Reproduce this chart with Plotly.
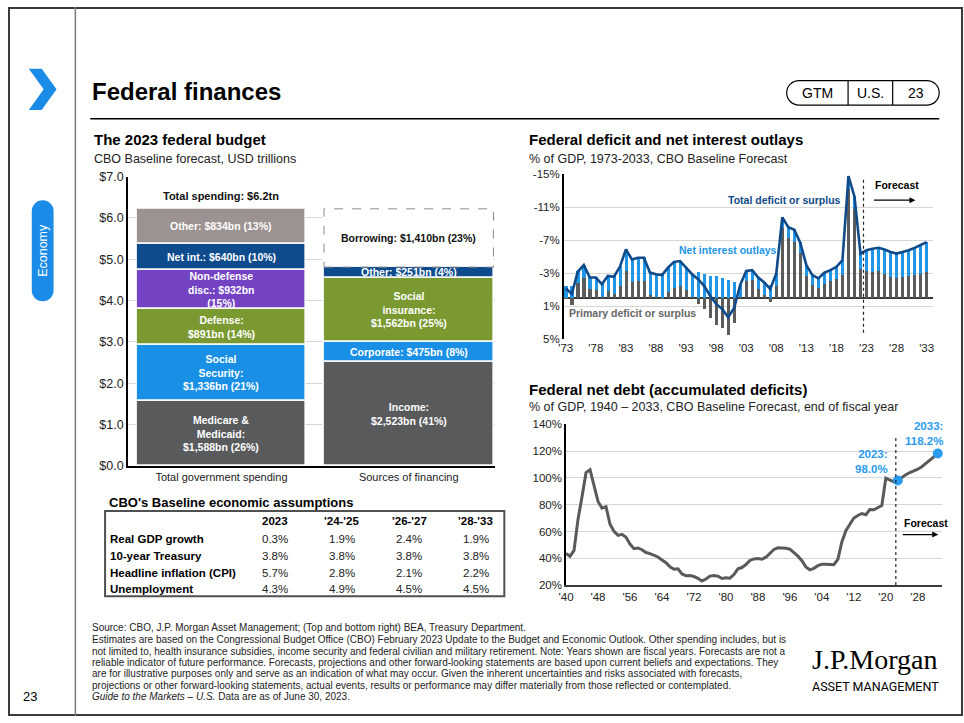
import plotly.graph_objects as go

W, H = 964, 723
SANS = "Liberation Sans, Arial, Helvetica, sans-serif"

# ---------------- DATA ----------------
budget_categories = ["Total government spending", "Sources of financing"]

spending_items = ["Medicare & Medicaid", "Social Security", "Defense",
                  "Non-defense discretionary", "Net interest", "Other"]
spending_values = [1.588, 1.336, 0.891, 0.932, 0.640, 0.834]   # USD trillions
spending_text = ["Medicare &<br>Medicaid:<br>$1,588bn (26%)",
                 "Social<br>Security:<br>$1,336bn (21%)",
                 "Defense:<br>$891bn (14%)",
                 "Non-defense<br>disc.: $932bn<br>(15%)",
                 "Net int.: $640bn (10%)",
                 "Other: $834bn (13%)"]
spending_colors = ["#595a5c", "#1a8fe6", "#7a9a31", "#7443c4", "#0d4b8c", "#9c9292"]
total_spending_label = "Total spending: $6.2tn"

financing_items = ["Income", "Corporate", "Social insurance", "Other", "Borrowing"]
financing_values = [2.523, 0.475, 1.562, 0.251, 1.410]        # USD trillions
financing_text = ["Income:<br>$2,523bn (41%)",
                  "Corporate: $475bn (8%)",
                  "Social<br>insurance:<br>$1,562bn (25%)",
                  "Other: $251bn (4%)",
                  "Borrowing: $1,410bn (23%)"]
financing_colors = ["#595a5c", "#1a8fe6", "#7a9a31", "#0d4b8c", "#ffffff"]

# Federal deficit, % of GDP (positive = deficit), fiscal years 1973-2033
deficit_years = list(range(1973, 2034))
primary_deficit = [-0.2, -0.9, 1.8, 2.4, 1.1, 1.0, 0.1, 0.8, 0.4, 1.4,
                   3.3, 1.9, 2.0, 2.0, 0.3, 0.1, -0.2, 0.7, 1.2, 1.4,
                   0.9, 0.1, -0.8, -1.4, -2.4, -3.3, -3.7, -4.5, -3.1, 0.1,
                   2.0, 2.1, 1.1, 0.3, -0.5, 1.4, 8.5, 7.3, 6.8, 5.4,
                   2.7, 1.5, 1.2, 1.7, 2.0, 2.3, 2.8, 13.2, 10.8, 3.5,
                   3.3, 3.1, 3.3, 2.9, 2.5, 2.4, 2.5, 2.7, 2.8, 2.9, 3.1]
net_interest = [1.4, 1.4, 1.4, 1.6, 1.4, 1.5, 1.6, 1.9, 2.2, 2.4,
                2.6, 2.8, 2.9, 2.9, 2.8, 2.8, 3.0, 3.0, 3.2, 3.1,
                2.8, 2.8, 3.1, 2.9, 2.7, 2.6, 2.4, 2.2, 1.9, 1.5,
                1.3, 1.3, 1.4, 1.6, 1.6, 1.6, 1.3, 1.3, 1.5, 1.3,
                1.3, 1.3, 1.2, 1.4, 1.4, 1.5, 1.8, 1.6, 1.5, 1.9,
                2.5, 2.9, 2.8, 3.0, 3.1, 3.0, 3.1, 3.1, 3.3, 3.6, 3.7]
total_deficit = [1.2, 0.5, 3.2, 4.0, 2.5, 2.5, 1.7, 2.7, 2.6, 3.8,
                 5.9, 4.7, 4.9, 4.9, 3.1, 2.9, 2.8, 3.7, 4.4, 4.5,
                 3.7, 2.9, 2.3, 1.5, 0.3, -0.7, -1.3, -2.3, -1.2, 1.6,
                 3.3, 3.4, 2.5, 1.9, 1.1, 3.0, 9.8, 8.6, 8.3, 6.7,
                 4.0, 2.8, 2.4, 3.1, 3.4, 3.8, 4.6, 14.8, 12.3, 5.4,
                 5.8, 6.0, 6.1, 5.9, 5.6, 5.4, 5.6, 5.8, 6.1, 6.5, 6.8]

# Federal net debt, % of GDP, 1940-2033
debt_years = list(range(1940, 2034))
net_debt = [43.6, 41.5, 45.9, 69.2, 86.0, 103.9, 106.1, 93.9, 82.4, 77.4,
            78.5, 65.4, 60.1, 57.1, 57.9, 55.7, 50.6, 47.2, 47.7, 46.4,
            44.3, 43.5, 42.3, 41.0, 38.7, 36.7, 33.7, 31.8, 32.2, 28.3,
            27.0, 27.1, 26.4, 25.1, 23.1, 24.5, 26.7, 27.1, 26.6, 24.9,
            25.5, 25.2, 27.9, 32.1, 33.1, 35.3, 38.4, 39.5, 39.8, 39.3,
            40.8, 44.0, 46.6, 47.8, 47.7, 47.5, 46.8, 44.5, 41.6, 38.2,
            33.6, 31.4, 32.5, 34.5, 35.5, 35.6, 35.3, 35.2, 39.2, 52.2,
            60.6, 65.5, 70.0, 71.9, 73.4, 72.5, 76.4, 76.2, 77.6, 79.4,
            99.8, 98.4, 97.0, 98.0, 100.5, 102.4, 104.0, 105.2, 106.5, 108.3,
            110.6, 113.2, 115.7, 118.2]
highlight_years = [2023, 2033]
forecast_start = 2022.5

deficit_tick_years = list(range(1973, 2034, 5))
deficit_tick_vals = [-15, -11, -7, -3, 1, 5]
debt_tick_years = list(range(1940, 2030, 8))
debt_tick_vals = [20, 40, 60, 80, 100, 120, 140]
budget_tick_vals = [0, 1, 2, 3, 4, 5, 6, 7]

table_columns = ["2023", "'24-'25", "'26-'27", "'28-'33"]
table_rows = ["Real GDP growth", "10-year Treasury", "Headline inflation (CPI)", "Unemployment"]
table_values = [["0.3%", "1.9%", "2.4%", "1.9%"],
                ["3.8%", "3.8%", "3.8%", "3.8%"],
                ["5.7%", "2.8%", "2.1%", "2.2%"],
                ["4.3%", "4.9%", "4.5%", "4.5%"]]

footer_lines = [
    "Source: CBO, J.P. Morgan Asset Management; (Top and bottom right) BEA, Treasury Department.",
    "Estimates are based on the Congressional Budget Office (CBO) February 2023 Update to the Budget and Economic Outlook. Other spending includes, but is",
    "not limited to, health insurance subsidies, income security and federal civilian and military retirement. Note: Years shown are fiscal years. Forecasts are not a",
    "reliable indicator of future performance. Forecasts, projections and other forward-looking statements are based upon current beliefs and expectations. They",
    "are for illustrative purposes only and serve as an indication of what may occur. Given the inherent uncertainties and risks associated with forecasts,",
    "projections or other forward-looking statements, actual events, results or performance may differ materially from those reflected or contemplated.",
    "<i>Guide to the Markets – U.S.</i> Data are as of June 30, 2023.",
]

# ---------------- helpers ----------------
def X(p):
    return p / W

def Y(p):
    return 1 - p / H

def rrect_path(x0, y0, x1, y1, r):
    k = 0.5523 * r
    pts = [
        ("M", [(x0 + r, y0)]),
        ("L", [(x1 - r, y0)]),
        ("C", [(x1 - r + k, y0), (x1, y0 + r - k), (x1, y0 + r)]),
        ("L", [(x1, y1 - r)]),
        ("C", [(x1, y1 - r + k), (x1 - r + k, y1), (x1 - r, y1)]),
        ("L", [(x0 + r, y1)]),
        ("C", [(x0 + r - k, y1), (x0, y1 - r + k), (x0, y1 - r)]),
        ("L", [(x0, y0 + r)]),
        ("C", [(x0, y0 + r - k), (x0 + r - k, y0), (x0 + r, y0)]),
    ]
    s = ""
    for cmd, ps in pts:
        s += cmd + " " + " ".join(f"{X(a):.5f},{Y(b):.5f}" for a, b in ps) + " "
    return s + "Z"

annotations = []

def txt(x, y, text, size, color="#000000", bold=False, xanchor="left",
        yanchor="middle", family=SANS, **kw):
    annotations.append(dict(
        x=X(x), y=Y(y), xref="paper", yref="paper", text=text, showarrow=False,
        xanchor=xanchor, yanchor=yanchor, align=kw.pop("align", xanchor if xanchor != "center" else "center"),
        font=dict(size=size, color=color, family=family, weight="bold" if bold else "normal"),
        **kw))

def arrow(x0, x1, y):
    annotations.append(dict(x=X(x1), y=Y(y), xref="paper", yref="paper", ax=-(x1 - x0), ay=0,
                            axref="pixel", ayref="pixel", text="", showarrow=True, arrowhead=2,
                            arrowsize=1, arrowwidth=1.2, arrowcolor="#000000"))

fig = go.Figure()

# ---------------- left: stacked budget bars ----------------
BAR_W = 0.905

def add_stack(xpos, names, values, labels, colors):
    base = 0.0
    for name, val, label, col in zip(names, values, labels, colors):
        fig.add_trace(go.Bar(
            x=[xpos], y=[val], width=[BAR_W], name=name, xaxis="x", yaxis="y",
            marker=dict(color=col, line=dict(color="white", width=1.5)),
            hoverinfo="skip", showlegend=False))
        annotations.append(dict(
            x=xpos, y=base + val / 2, xref="x", yref="y", text=label, showarrow=False,
            xanchor="center", yanchor="middle", align="center",
            font=dict(size=10.5, family=SANS, weight="bold",
                      color="#111111" if col == "#ffffff" else "white")))
        base += val

add_stack(0, spending_items, spending_values, spending_text, spending_colors)
add_stack(1, financing_items, financing_values, financing_text, financing_colors)

# ---------------- top right: deficit ----------------
fig.add_trace(go.Bar(x=deficit_years, y=[-v for v in primary_deficit], width=0.52,
                     marker=dict(color="#5b5b5b", line=dict(width=0)),
                     xaxis="x2", yaxis="y2", showlegend=False, name="Primary deficit or surplus"))
fig.add_trace(go.Bar(x=deficit_years, y=[-v for v in net_interest], width=0.52,
                     marker=dict(color="#2196e6", line=dict(width=0)),
                     xaxis="x2", yaxis="y2", showlegend=False, name="Net interest outlays"))
fig.add_trace(go.Scatter(x=deficit_years, y=[-v for v in total_deficit], mode="lines",
                         line=dict(color="#0f4a8a", width=2.6),
                         xaxis="x2", yaxis="y2", showlegend=False, name="Total deficit or surplus"))

# ---------------- bottom right: net debt ----------------
fig.add_trace(go.Scatter(x=debt_years, y=net_debt, mode="lines",
                         line=dict(color="#5a5a5a", width=3),
                         xaxis="x3", yaxis="y3", showlegend=False, name="Net debt"))
hl_vals = [net_debt[debt_years.index(yr)] for yr in highlight_years]
fig.add_trace(go.Scatter(x=highlight_years, y=hl_vals, mode="markers",
                         marker=dict(color="#2a9cf0", size=10),
                         cliponaxis=False, xaxis="x3", yaxis="y3", showlegend=False))
for yr, v, xs in zip(highlight_years, hl_vals, [-8, 7]):
    annotations.append(dict(x=yr, y=v, xref="x3", yref="y3", text=f"<b>{yr}:<br>{v:.1f}%</b>",
                            showarrow=False, xanchor="right", yanchor="bottom", align="right",
                            xshift=xs, yshift=4,
                            font=dict(size=11.5, color="#2a9cf0", family=SANS)))

annotations.append(dict(x=0, y=sum(spending_values), xref="x", yref="y",
                        text=f"<b>{total_spending_label}</b>", showarrow=False,
                        yanchor="bottom", yshift=5,
                        font=dict(size=11, color="#111111", family=SANS)))

# ---------------- shapes ----------------
shapes = []
shapes.append(dict(type="rect", xref="paper", yref="paper", x0=X(1), x1=X(963), y0=Y(722), y1=Y(1),
                   line=dict(color="#3a3a3a", width=2), layer="above"))
shapes.append(dict(type="line", xref="paper", yref="paper", x0=X(68), x1=X(68), y0=Y(0), y1=Y(723),
                   line=dict(color="#7a7a7a", width=1.5)))
chev = [(21, 63), (34, 63), (49, 84), (34, 105), (21, 105), (36, 84)]
shapes.append(dict(type="path", xref="paper", yref="paper",
                   path="M " + " L ".join(f"{X(a):.5f},{Y(b):.5f}" for a, b in chev) + " Z",
                   fillcolor="#1a8ce8", line=dict(width=0)))
shapes.append(dict(type="path", xref="paper", yref="paper", path=rrect_path(24, 197, 46, 300, 11),
                   fillcolor="#1a8ce8", line=dict(width=0)))
shapes.append(dict(type="line", xref="paper", yref="paper", x0=X(83), x1=X(940), y0=Y(114), y1=Y(114),
                   line=dict(color="#000000", width=1.5)))
shapes.append(dict(type="path", xref="paper", yref="paper", path=rrect_path(786, 75, 940, 100, 12.5),
                   fillcolor="white", line=dict(color="#000000", width=1.2)))
for xx in (848, 893):
    shapes.append(dict(type="line", xref="paper", yref="paper", x0=X(xx), x1=X(xx), y0=Y(75), y1=Y(100),
                       line=dict(color="#000000", width=1.2)))
shapes.append(dict(type="rect", xref="x", yref="y", x0=1 - BAR_W / 2, x1=1 + BAR_W / 2,
                   y0=sum(financing_values[:-1]), y1=sum(financing_values),
                   line=dict(color="#8c8c8c", width=1, dash="dash"), layer="above"))
shapes.append(dict(type="rect", xref="paper", yref="paper", x0=X(98), x1=X(501), y0=Y(601), y1=Y(514),
                   line=dict(color="#505050", width=2)))
shapes.append(dict(type="line", xref="x2", yref="y2 domain", x0=forecast_start, x1=forecast_start,
                   y0=0.04, y1=0.98, line=dict(color="#222222", width=1.2, dash="dot")))
shapes.append(dict(type="line", xref="x3", yref="y3 domain", x0=forecast_start, x1=forecast_start,
                   y0=0.0, y1=0.93, line=dict(color="#222222", width=1.2, dash="dot")))

# ---------------- texts ----------------
txt(83, 86, "Federal finances", 24, bold=True)
txt(817, 88, "GTM", 14, xanchor="center")
txt(870.5, 88, "U.S.", 14, xanchor="center")
txt(916.5, 88, "23", 14, xanchor="center")
annotations.append(dict(x=X(35.5), y=Y(248.5), xref="paper", yref="paper", text="Economy", showarrow=False,
                        textangle=-90, xanchor="center", yanchor="middle",
                        font=dict(size=12.5, color="white", family=SANS)))
txt(22, 703, "23", 13, xanchor="center")

txt(85, 135, "The 2023 federal budget", 15, bold=True)
txt(85, 155, "CBO Baseline forecast, USD trillions", 12.5, color="#222222")
txt(524, 135, "Federal deficit and net interest outlays", 15, bold=True)
txt(524, 155, "% of GDP, 1973-2033, CBO Baseline Forecast", 12.5, color="#222222")
txt(524, 390, "Federal net debt (accumulated deficits)", 15, bold=True)
txt(524, 408, "% of GDP, 1940 – 2033, CBO Baseline Forecast, end of fiscal year", 12.5, color="#222222")

txt(784, 197, "Total deficit or surplus", 10.5, color="#0f4a8a", bold=True, xanchor="center")
txt(727, 248, "Net interest outlays", 10.5, color="#2196e6", bold=True, xanchor="center")
txt(630, 312, "Primary deficit or surplus", 10.5, color="#666666", bold=True, xanchor="center")
txt(873, 182, "Forecast", 10.5, bold=True)
arrow(873, 916, 197)
txt(902, 526, "Forecast", 10.5, bold=True)
arrow(902, 939, 538)

txt(100, 505, "CBO's Baseline economic assumptions", 13, bold=True)
col_x = [270, 337, 405, 472]
row_y = [542, 560, 577, 594]
for cx, c in zip(col_x, table_columns):
    txt(cx, 524, c, 11.5, bold=True, xanchor="center")
for ry, rlab, vals in zip(row_y, table_rows, table_values):
    txt(101, ry, rlab, 11.5, bold=True)
    for cx, v in zip(col_x, vals):
        txt(cx, ry, v, 11.5, color="#222222", xanchor="center")

footer_y = [633, 645, 657, 668.5, 680, 692, 703]
for fy, line in zip(footer_y, footer_lines):
    txt(83, fy, line, 10.0, color="#222222")
txt(875.5, 665, "J.P.Morgan", 28, family="Liberation Serif, Times New Roman, serif", xanchor="center")
txt(875.5, 693, "ASSET MANAGEMENT", 12.5, family="Roboto, sans-serif", xanchor="center")

# ---------------- layout ----------------
grid = "#d6d6d6"
tickfont = dict(size=12.5, color="#222222", family=SANS)
tickfont_r = dict(size=11.5, color="#222222", family=SANS)

fig.update_layout(
    width=W, height=H, margin=dict(l=0, r=0, t=0, b=0),
    paper_bgcolor="white", plot_bgcolor="white",
    barmode="relative", bargap=0,
    font=dict(family=SANS),
    showlegend=False,
    xaxis=dict(domain=[X(121), X(492)], range=[-0.5, 1.463], tickvals=[0, 1],
               ticktext=budget_categories, showgrid=False, zeroline=False, showline=True,
               linecolor="#000000", linewidth=1.5, ticks="",
               tickfont=dict(size=11, color="#222222", family=SANS),
               anchor="y", fixedrange=True),
    yaxis=dict(domain=[Y(468), Y(173)], range=[0, 7], tickvals=budget_tick_vals,
               ticktext=[f"${v:.1f}" for v in budget_tick_vals],
               showgrid=True, gridcolor=grid, zeroline=False, showline=True, linecolor="#000000",
               linewidth=1.5, ticks="", tickfont=tickfont, anchor="x", fixedrange=True),
    xaxis2=dict(domain=[X(561), X(934)], range=[1972.67, 2034.1], tickvals=deficit_tick_years,
                ticktext=["'" + str(y)[2:] for y in deficit_tick_years], showgrid=False,
                zeroline=False, showline=False, ticks="", tickfont=tickfont_r, anchor="y2"),
    yaxis2=dict(domain=[Y(339), Y(170.7)], range=[5, -15], tickvals=deficit_tick_vals,
                ticktext=[f"{v}%" for v in deficit_tick_vals],
                showgrid=True, gridcolor=grid, zeroline=True, zerolinecolor="#3a3a3a", zerolinewidth=2,
                showline=True, linecolor="#000000", linewidth=1.5, ticks="", tickfont=tickfont_r,
                anchor="x2"),
    xaxis3=dict(domain=[X(563.3), X(943)], range=[1940, 2034.1], tickvals=debt_tick_years,
                ticktext=["'" + str(y)[2:] for y in debt_tick_years], showgrid=False,
                zeroline=False, showline=True, linecolor="#3a3a3a", linewidth=1.5, ticks="",
                tickfont=tickfont_r, anchor="y3"),
    yaxis3=dict(domain=[Y(589.5), Y(425.5)], range=[20, 140], tickvals=debt_tick_vals,
                ticktext=[f"{v}%" for v in debt_tick_vals],
                showgrid=True, gridcolor=grid, zeroline=False, showline=True, linecolor="#000000",
                linewidth=1.5, ticks="", tickfont=tickfont_r, anchor="x3"),
    shapes=shapes,
    annotations=annotations,
)

page_fix = ("document.documentElement.style.margin='0px';"
            "document.documentElement.style.overflow='hidden';"
            "document.body.style.margin='0px';document.body.style.padding='0px';"
            "document.body.style.overflow='hidden';"
            "var gd=document.getElementById('{plot_id}');"
            "gd.style.position='absolute';gd.style.left='0px';gd.style.top='0px';")
fig.write_html("out.html", config={"displayModeBar": False}, post_script=page_fix)
